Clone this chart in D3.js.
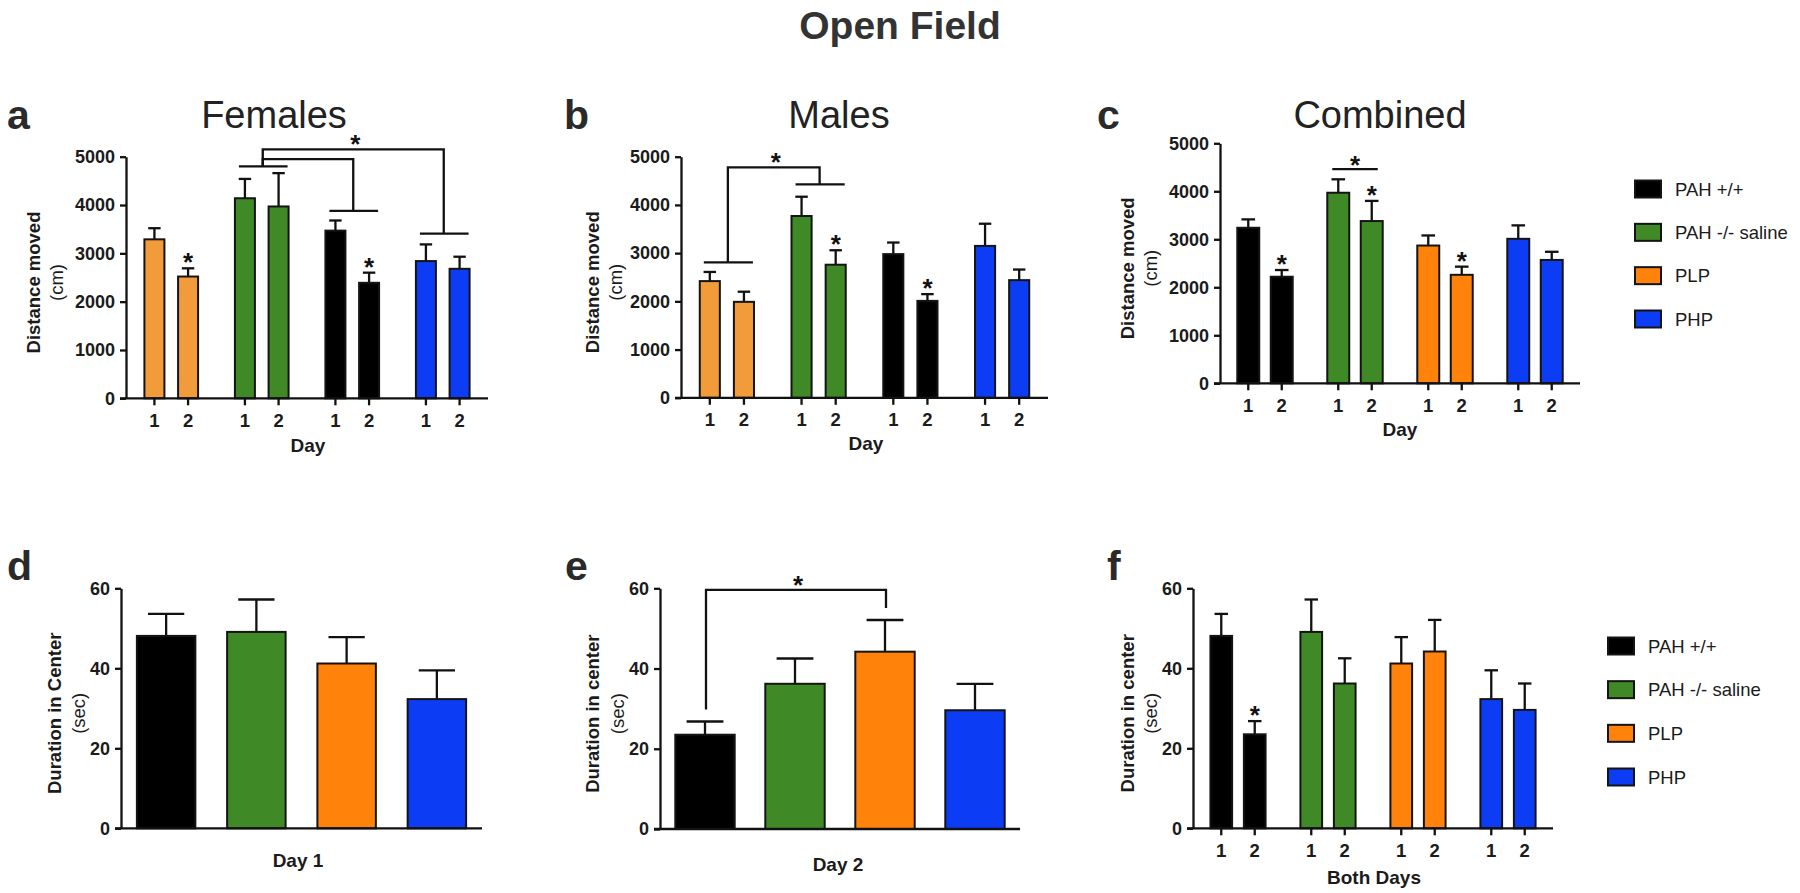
<!DOCTYPE html>
<html><head><meta charset="utf-8">
<script src="https://cdn.jsdelivr.net/npm/d3@7"></script>
<style>
body{margin:0;background:#fff;}
svg{display:block;font-family:"Liberation Sans",Arial,Helvetica,sans-serif;}
</style>
</head><body>
<svg id="chart" width="1800" height="893"></svg>
<script>
// ---------------- DATA ----------------
const groupsAB = ["PLP", "PAH -/- saline", "PAH +/+", "PHP"];   // order in panels a, b
const groupsCF = ["PAH +/+", "PAH -/- saline", "PLP", "PHP"];   // order in panels c-f & legend
const dayLabels = ["1", "2"];
const distTicks = [0, 1000, 2000, 3000, 4000, 5000];
const durTicks = [0, 20, 40, 60];

const femalesDay1 = [3290, 4140, 3470, 2840];
const femalesDay1Sem = [230, 400, 210, 345];
const femalesDay2 = [2520, 3970, 2390, 2680];
const femalesDay2Sem = [170, 690, 210, 250];

const malesDay1 = [2420, 3770, 2980, 3150];
const malesDay1Sem = [190, 400, 240, 460];
const malesDay2 = [1990, 2760, 2010, 2440];
const malesDay2Sem = [210, 300, 140, 220];

const combinedDay1 = [3240, 3970, 2870, 3010];
const combinedDay1Sem = [175, 280, 210, 280];
const combinedDay2 = [2220, 3380, 2260, 2570];
const combinedDay2Sem = [140, 420, 170, 170];

const centerDay1 = [48.1, 49.1, 41.2, 32.3];
const centerDay1Sem = [5.5, 8.1, 6.6, 7.2];
const centerDay2 = [23.5, 36.2, 44.2, 29.6];
const centerDay2Sem = [3.3, 6.3, 7.9, 6.6];

// significance annotations (values in data units)
const femalesStars = [["PLP", 2], ["PAH +/+", 2]];
const femalesPairLines = [["PAH -/- saline", 4800], ["PAH +/+", 3880], ["PHP", 3410]];
const femalesLinks = [["PAH -/- saline", "PAH +/+", 4800, 4950, 3880], ["PAH -/- saline", "PHP", 4800, 5150, 3410]];
const malesStars = [["PAH -/- saline", 2], ["PAH +/+", 2]];
const malesPairLines = [["PLP", 2810], ["PAH -/- saline", 4425]];
const malesLinks = [["PLP", "PAH -/- saline", 2810, 4780, 4425]];
const combinedStars = [["PAH +/+", 2], ["PAH -/- saline", 2], ["PLP", 2]];
const combinedStarLines = [["PAH -/- saline", 4460]];
const day2Links = [["PAH +/+", "PLP", 29.8, 59.6, 55.1]];
const bothDaysStars = [["PAH +/+", 2]];

const colorsAB = {"PLP": "#F29B3B", "PAH -/- saline": "#3F8A27", "PAH +/+": "#000000", "PHP": "#0C3DF5"};
const colorsCF = {"PAH +/+": "#000000", "PAH -/- saline": "#3F8A27", "PLP": "#FF830B", "PHP": "#0C3DF5"};

// ---------------- DRAW ----------------
const svg = d3.select("#chart");
const INK = "#111";
const TXT = "#1b1b1b";

svg.append("text").attr("x", 900).attr("y", 39).attr("text-anchor", "middle")
  .attr("font-size", 39).attr("font-weight", "bold").attr("fill", "#333").text("Open Field");

function drawStar(g, x, y) {
  g.append("text").attr("x", x).attr("y", y + 15).attr("text-anchor", "middle")
    .attr("font-size", 26).attr("font-weight", "bold").attr("fill", INK).text("*");
}

function panel(cfg) {
  const g = svg.append("g");
  const y = d3.scaleLinear().domain([0, cfg.yMax]).range([cfg.y0, cfg.yTop]);
  const xg = d3.scaleBand().domain(cfg.groups).range([cfg.x0, cfg.x1]);
  const grouped = cfg.series.length > 1;
  const inner = d3.scaleBand().domain(dayLabels.slice(0, cfg.series.length))
    .range(grouped ? [-xg.step() * 0.372, xg.step() * 0.372] : [-xg.step() / 2, xg.step() / 2]);
  const gc = grp => xg(grp) + xg.bandwidth() / 2;
  const cx = (grp, d) => gc(grp) + inner(String(d)) + inner.bandwidth() / 2;
  const bw = xg.step() * cfg.barFrac;

  const rows = [];
  cfg.series.forEach((s, si) => s.values.forEach((v, gi) =>
    rows.push({group: cfg.groups[gi], day: si + 1, v: v, sem: s.sem[gi]})));

  // error bars
  const eb = g.append("g").attr("stroke", INK).attr("stroke-width", 2.3).attr("fill", "none");
  eb.selectAll("line.stem").data(rows).join("line")
    .attr("x1", d => cx(d.group, d.day)).attr("x2", d => cx(d.group, d.day))
    .attr("y1", d => y(d.v)).attr("y2", d => y(d.v + d.sem));
  eb.selectAll("line.cap").data(rows).join("line").attr("class", "cap")
    .attr("x1", d => cx(d.group, d.day) - bw * 0.31).attr("x2", d => cx(d.group, d.day) + bw * 0.31)
    .attr("y1", d => y(d.v + d.sem)).attr("y2", d => y(d.v + d.sem));

  // bars
  g.append("g").selectAll("rect").data(rows).join("rect")
    .attr("x", d => cx(d.group, d.day) - bw / 2).attr("width", bw)
    .attr("y", d => y(d.v)).attr("height", d => y(0) - y(d.v))
    .attr("fill", d => cfg.colors[d.group]).attr("stroke", "#141414").attr("stroke-width", 2);

  // y axis
  const ya = g.append("g").attr("transform", `translate(${cfg.x0},0)`)
    .call(d3.axisLeft(y).tickValues(cfg.ticks).tickSize(6).tickPadding(5).tickSizeOuter(0).tickFormat(d3.format("d")));
  ya.select(".domain").attr("stroke", INK).attr("stroke-width", 2.3);
  ya.selectAll(".tick line").attr("stroke", INK).attr("stroke-width", 2.3);
  ya.selectAll(".tick text").attr("font-size", 18).attr("font-weight", "bold").attr("fill", TXT)
    .attr("font-family", "'Liberation Sans',Arial,sans-serif");

  // x axis line
  g.append("line").attr("x1", cfg.x0 - 6).attr("x2", cfg.x1).attr("y1", y(0)).attr("y2", y(0))
    .attr("stroke", INK).attr("stroke-width", 2.3);
  if (grouped) {
    g.append("g").selectAll("line").data(rows).join("line")
      .attr("x1", d => cx(d.group, d.day)).attr("x2", d => cx(d.group, d.day))
      .attr("y1", y(0)).attr("y2", y(0) + 7).attr("stroke", INK).attr("stroke-width", 2.3);
    g.append("g").selectAll("text").data(rows).join("text")
      .attr("x", d => cx(d.group, d.day)).attr("y", cfg.tickBase).attr("text-anchor", "middle")
      .attr("font-size", 18.5).attr("font-weight", "bold").attr("fill", TXT)
      .text(d => dayLabels[d.day - 1]);
  }

  // labels
  const ymid = (cfg.y0 + cfg.yTop) / 2 + 5;
  g.append("text").attr("transform", `translate(${cfg.ylabX[0]},${ymid}) rotate(-90)`)
    .attr("text-anchor", "middle").attr("dominant-baseline", "central")
    .attr("font-size", 18.5).attr("font-weight", "bold").attr("fill", TXT).text(cfg.ylabel[0]);
  g.append("text").attr("transform", `translate(${cfg.ylabX[1]},${ymid}) rotate(-90)`)
    .attr("text-anchor", "middle").attr("dominant-baseline", "central")
    .attr("font-size", 18.5).attr("fill", TXT).text(cfg.ylabel[1]);
  g.append("text").attr("x", cfg.xlab[1]).attr("y", cfg.xlab[2]).attr("text-anchor", "middle")
    .attr("font-size", 19).attr("font-weight", "bold").attr("fill", TXT).text(cfg.xlab[0]);
  if (cfg.title) g.append("text").attr("x", cfg.title[1]).attr("y", 128).attr("text-anchor", "middle")
    .attr("font-size", 38).attr("fill", "#222").text(cfg.title[0]);
  g.append("text").attr("x", cfg.letter[1]).attr("y", cfg.letter[2])
    .attr("font-size", 41).attr("font-weight", "bold").attr("fill", "#2a2a2a").text(cfg.letter[0]);

  // annotations
  const an = g.append("g").attr("stroke", INK).attr("stroke-width", 2.3).attr("fill", "none");
  (cfg.stars || []).forEach(([grp, d]) => {
    const i = cfg.groups.indexOf(grp);
    const s = cfg.series[d - 1];
    drawStar(g, cx(grp, d), y(s.values[i] + s.sem[i]) - 12);
  });
  (cfg.pairLines || []).forEach(([grp, v]) => {
    an.append("line").attr("x1", cx(grp, 1) - 6).attr("x2", cx(grp, 2) + 9)
      .attr("y1", y(v)).attr("y2", y(v));
  });
  (cfg.starLines || []).forEach(([grp, v]) => {
    an.append("line").attr("x1", cx(grp, 1) - 6).attr("x2", cx(grp, 2) + 6)
      .attr("y1", y(v)).attr("y2", y(v));
    drawStar(g, (cx(grp, 1) + cx(grp, 2)) / 2, y(v) - 10);
  });
  const links = cfg.links || [];
  links.forEach(([a, b, va, top, vb], k) => {
    const xa = gc(a) + 1, xb = gc(b) + 1;
    an.append("path").attr("d", `M${xa},${y(va)} V${y(top)} H${xb} V${y(vb)}`);
    if (k === links.length - 1) drawStar(g, (xa + xb) / 2 + 2, y(top) - 11);
  });
}

function legend(x0, yFirst, yLast) {
  const ry = d3.scalePoint().domain(groupsCF).range([yFirst, yLast]);
  const lg = svg.append("g");
  lg.selectAll("rect").data(groupsCF).join("rect")
    .attr("x", x0).attr("y", d => ry(d) - 8.5).attr("width", 26).attr("height", 17)
    .attr("fill", d => colorsCF[d]).attr("stroke", "#141414").attr("stroke-width", 2);
  lg.selectAll("text").data(groupsCF).join("text")
    .attr("x", x0 + 40).attr("y", d => ry(d)).attr("dominant-baseline", "central")
    .attr("font-size", 18.5).attr("fill", TXT).text(d => d);
}

panel({groups: groupsAB, colors: colorsAB, x0: 126, x1: 488, y0: 398.3, yTop: 156.7, yMax: 5000, ticks: distTicks,
  barFrac: 0.221, series: [{values: femalesDay1, sem: femalesDay1Sem}, {values: femalesDay2, sem: femalesDay2Sem}],
  ylabel: ["Distance moved", "(cm)"], ylabX: [33, 56], xlab: ["Day", 308, 452], tickBase: 427,
  title: ["Females", 274], letter: ["a", 7, 129],
  stars: femalesStars, pairLines: femalesPairLines, links: femalesLinks});

panel({groups: groupsAB, colors: colorsAB, x0: 681, x1: 1048, y0: 397.8, yTop: 156.7, yMax: 5000, ticks: distTicks,
  barFrac: 0.219, series: [{values: malesDay1, sem: malesDay1Sem}, {values: malesDay2, sem: malesDay2Sem}],
  ylabel: ["Distance moved", "(cm)"], ylabX: [592, 615], xlab: ["Day", 866, 450], tickBase: 426,
  title: ["Males", 839], letter: ["b", 564, 129],
  stars: malesStars, pairLines: malesPairLines, links: malesLinks});

panel({groups: groupsCF, colors: colorsCF, x0: 1220, x1: 1580, y0: 383.3, yTop: 143.3, yMax: 5000, ticks: distTicks,
  barFrac: 0.244, series: [{values: combinedDay1, sem: combinedDay1Sem}, {values: combinedDay2, sem: combinedDay2Sem}],
  ylabel: ["Distance moved", "(cm)"], ylabX: [1127, 1150], xlab: ["Day", 1400, 436], tickBase: 412,
  title: ["Combined", 1380], letter: ["c", 1097, 129],
  stars: combinedStars, starLines: combinedStarLines});

panel({groups: groupsCF, colors: colorsCF, x0: 121, x1: 482, y0: 828.3, yTop: 588.3, yMax: 60, ticks: durTicks,
  barFrac: 0.648, series: [{values: centerDay1, sem: centerDay1Sem}],
  ylabel: ["Duration in Center", "(sec)"], ylabX: [54, 78.5], xlab: ["Day 1", 298, 867],
  letter: ["d", 7, 580]});

panel({groups: groupsCF, colors: colorsCF, x0: 660, x1: 1020, y0: 829, yTop: 588.3, yMax: 60, ticks: durTicks,
  barFrac: 0.66, series: [{values: centerDay2, sem: centerDay2Sem}],
  ylabel: ["Duration in center", "(sec)"], ylabX: [592, 617], xlab: ["Day 2", 838, 871],
  letter: ["e", 565, 580], links: day2Links});

panel({groups: groupsCF, colors: colorsCF, x0: 1193, x1: 1553, y0: 828.3, yTop: 588.3, yMax: 60, ticks: durTicks,
  barFrac: 0.241, series: [{values: centerDay1, sem: centerDay1Sem}, {values: centerDay2, sem: centerDay2Sem}],
  ylabel: ["Duration in center", "(sec)"], ylabX: [1127, 1150], xlab: ["Both Days", 1374, 884], tickBase: 857,
  letter: ["f", 1107, 580], stars: bothDaysStars});

legend(1635, 189, 319);
legend(1608, 646, 777);
</script>
</body></html>
